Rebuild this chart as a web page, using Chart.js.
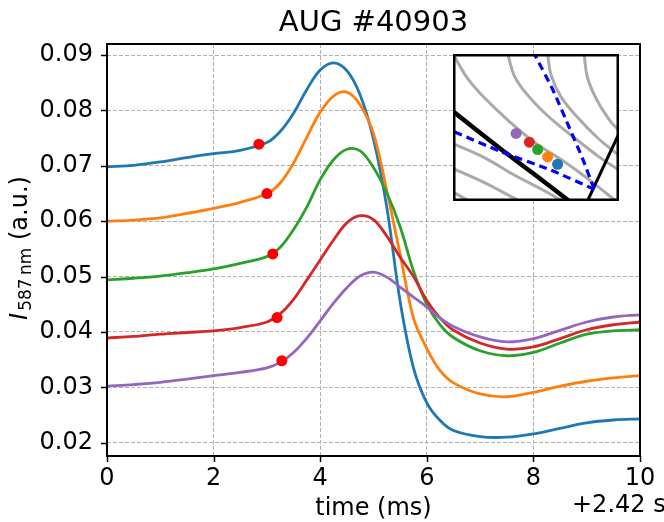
<!DOCTYPE html>
<html>
<head>
<meta charset="utf-8">
<script src="https://cdn.jsdelivr.net/npm/chart.js@4.4.1/dist/chart.umd.min.js"></script>
<style>
  html, body { margin: 0; padding: 0; background: #fff; }
  #wrap { position: relative; width: 664px; height: 522px; }
  #main { position: absolute; left: 0; top: 0; }
  #inset { position: absolute; left: 453px; top: 54px; background: #fff; }
</style>
</head>
<body>
<div id="wrap">
  <canvas id="main" width="664" height="522"></canvas>
  <canvas id="inset" width="166" height="147"></canvas>
</div>
<script>
var FONT = 'DejaVu Sans'

// time axis (ms, offset +2.42 s)
var times = [0, 0.5, 1, 1.5, 2, 2.5, 3, 3.25, 3.5, 3.75, 4, 4.25, 4.5, 4.75, 5, 5.25, 5.5, 5.75, 6, 6.25, 6.5, 7, 7.5, 8, 8.5, 9, 9.5, 10]

var blueLine = [0.0698, 0.0701, 0.0707, 0.0715, 0.0722, 0.0728, 0.0742, 0.0762, 0.0795, 0.0838, 0.0873, 0.0886, 0.0872, 0.0828, 0.0748, 0.0625, 0.0455, 0.0335, 0.0272, 0.0240, 0.0222, 0.0211, 0.0210, 0.0216, 0.0226, 0.0236, 0.0241, 0.0243]
var orangeLine = [0.0600, 0.0602, 0.0606, 0.0614, 0.0623, 0.0634, 0.0650, 0.0669, 0.0705, 0.0752, 0.0797, 0.0826, 0.0833, 0.0810, 0.0758, 0.0655, 0.0540, 0.0425, 0.0370, 0.0330, 0.0308, 0.0288, 0.0283, 0.0291, 0.0302, 0.0311, 0.0317, 0.0321]
var greenLine = [0.0494, 0.0497, 0.0501, 0.0507, 0.0514, 0.0524, 0.0536, 0.0553, 0.0585, 0.0626, 0.0675, 0.0711, 0.0730, 0.0727, 0.0697, 0.0651, 0.0590, 0.0510, 0.0450, 0.0413, 0.0390, 0.0366, 0.0357, 0.0363, 0.0380, 0.0396, 0.0402, 0.0404]
var redLine = [0.0389, 0.0392, 0.0396, 0.0399, 0.0402, 0.0408, 0.0418, 0.0433, 0.0459, 0.0494, 0.0530, 0.0566, 0.0597, 0.0610, 0.0603, 0.0573, 0.0535, 0.0500, 0.0457, 0.0425, 0.0403, 0.0380, 0.0369, 0.0373, 0.0388, 0.0404, 0.0413, 0.0418]
var purpleLine = [0.0302, 0.0305, 0.0309, 0.0315, 0.0321, 0.0327, 0.0335, 0.0345, 0.0363, 0.0389, 0.0420, 0.0452, 0.0480, 0.0501, 0.0508, 0.0499, 0.0481, 0.0463, 0.0445, 0.0425, 0.0410, 0.0391, 0.0382, 0.0388, 0.0403, 0.0418, 0.0427, 0.0431]

// red markers on each trace
var dotTimes = [2.85, 3.00, 3.11, 3.19, 3.28]
var dotValues = [0.0739, 0.0650, 0.0541, 0.0426, 0.0348]

var xTicks = [0, 2, 4, 6, 8, 10]
var yTicks = [0.02, 0.03, 0.04, 0.05, 0.06, 0.07, 0.08, 0.09]

var lineColors = ['#1f77b4', '#ff7f0e', '#2ca02c', '#d62728', '#9467bd']
var series = [blueLine, orangeLine, greenLine, redLine, purpleLine]

// inset (normalised coordinates of the small map)
var fluxLines = [
  [[0.00, 1.00], [0.09, 0.83], [0.20, 0.69], [0.34, 0.54], [0.49, 0.40], [0.68, 0.26], [0.86, 0.11], [0.98, 0.00]],
  [[0.33, 1.00], [0.37, 0.85], [0.45, 0.72], [0.57, 0.58], [0.72, 0.44], [0.88, 0.30], [1.00, 0.21]],
  [[0.57, 1.00], [0.59, 0.86], [0.65, 0.71], [0.75, 0.57], [0.88, 0.42], [1.00, 0.31]],
  [[0.79, 1.00], [0.81, 0.84], [0.87, 0.68], [0.95, 0.54], [1.00, 0.48]],
  [[0.00, 0.39], [0.18, 0.30], [0.38, 0.17], [0.55, 0.07], [0.66, 0.00]],
  [[0.00, 0.22], [0.18, 0.13], [0.40, 0.00]],
  [[0.00, 0.06], [0.10, 0.00]]
]
var separatrixLeft = [[0.00, 0.61], [0.28, 0.36], [0.48, 0.19], [0.70, 0.00]]
var separatrixRight = [[0.81, 0.00], [1.00, 0.46]]
var dashedLow = [[0.01, 0.47], [0.28, 0.34], [0.59, 0.21], [0.85, 0.08]]
var dashedHigh = [[0.85, 0.08], [0.78, 0.29], [0.70, 0.50], [0.60, 0.76], [0.49, 1.00]]
var insetDotX = [0.38, 0.46, 0.51, 0.57, 0.63]
var insetDotY = [0.46, 0.40, 0.35, 0.30, 0.25]
var insetDotColors = ['#9467bd', '#d62728', '#2ca02c', '#ff7f0e', '#1f77b4']

function pairs(list) {
  return list.map(function (p) { return {x: p[0], y: p[1]} })
}

var datasets = [{
  data: dotTimes.map(function (t, i) { return {x: t, y: dotValues[i]} }),
  showLine: false,
  pointRadius: 5.5,
  pointBackgroundColor: '#ff0000',
  pointBorderWidth: 0,
  order: 0
}]
series.forEach(function (s, k) {
  datasets.push({
    data: times.map(function (t, i) { return {x: t, y: s[i]} }),
    borderColor: lineColors[k],
    borderWidth: 2.8,
    pointRadius: 0,
    tension: 0.35,
    order: 5 - k
  })
})

// text, ticks and frame in matplotlib fashion
var decor = {
  id: 'decor',
  afterDraw: function (chart) {
    var ctx = chart.ctx
    var a = chart.chartArea
    var sx = chart.scales.x
    var sy = chart.scales.y
    ctx.save()
    ctx.strokeStyle = '#000'
    ctx.lineWidth = 1.5
    xTicks.forEach(function (v) {
      var px = Math.round(sx.getPixelForValue(v)) + 0.5
      ctx.beginPath(); ctx.moveTo(px, a.bottom); ctx.lineTo(px, a.bottom + 6); ctx.stroke()
    })
    yTicks.forEach(function (v) {
      var py = Math.round(sy.getPixelForValue(v)) + 0.5
      ctx.beginPath(); ctx.moveTo(a.left, py); ctx.lineTo(a.left - 6, py); ctx.stroke()
    })
    ctx.lineWidth = 2
    ctx.strokeRect(a.left, a.top, a.right - a.left, a.bottom - a.top)

    ctx.fillStyle = '#000'
    ctx.textBaseline = 'alphabetic'
    ctx.textAlign = 'center'
    ctx.font = '29px "' + FONT + '"'
    ctx.fillText('AUG #40903', (a.left + a.right) / 2, 31)
    ctx.font = '24px "' + FONT + '"'
    ctx.fillText('time (ms)', (a.left + a.right) / 2, 515)
    ctx.textAlign = 'left'
    ctx.fillText('+2.42 s', 572, 512)

    // y label: I_{587 nm} (a.u.)
    var mainFont = '24px "' + FONT + '"'
    var italFont = 'italic 24px "' + FONT + '"'
    var subFont = '17px "' + FONT + '"'
    ctx.font = italFont; var w1 = ctx.measureText('I').width
    ctx.font = subFont; var w2 = ctx.measureText('587\u2009nm').width
    ctx.font = mainFont; var w3 = ctx.measureText(' (a.u.)').width
    var total = w1 + 2 + w2 + w3
    ctx.translate(27, (a.top + a.bottom) / 2 - 2)
    ctx.rotate(-Math.PI / 2)
    var x0 = -total / 2
    ctx.font = italFont; ctx.fillText('I', x0, 0)
    ctx.font = subFont; ctx.fillText('587\u2009nm', x0 + w1 + 2, 4)
    ctx.font = mainFont; ctx.fillText(' (a.u.)', x0 + w1 + 2 + w2, 0)
    ctx.restore()
  }
}

var chart = new Chart(document.getElementById('main'), {
  type: 'line',
  data: {datasets: datasets},
  options: {
    responsive: false,
    devicePixelRatio: 1,
    animation: false,
    events: [],
    layout: {autoPadding: false, padding: {left: 0, top: 44, right: 24, bottom: 0}},
    plugins: {legend: {display: false}, tooltip: {enabled: false}, title: {display: false}},
    scales: {
      x: {
        type: 'linear',
        min: 0,
        max: 10,
        afterBuildTicks: function (s) { s.ticks = xTicks.map(function (v) { return {value: v} }) },
        afterFit: function (s) { s.height = 66 },
        grid: {color: '#b0b0b0', lineWidth: 1, drawTicks: false},
        border: {display: false, dash: [4, 2]},
        ticks: {
          color: '#000', padding: 8, maxRotation: 0, autoSkip: false,
          font: {family: FONT, size: 24},
          callback: function (v) { return String(v) }
        }
      },
      y: {
        type: 'linear',
        min: 0.0176,
        max: 0.092,
        afterBuildTicks: function (s) { s.ticks = yTicks.map(function (v) { return {value: v} }) },
        afterFit: function (s) { s.width = 107 },
        grid: {color: '#b0b0b0', lineWidth: 1, drawTicks: false},
        border: {display: false, dash: [4, 2]},
        ticks: {
          color: '#000', padding: 14,
          font: {family: FONT, size: 24},
          callback: function (v) { return v.toFixed(2) }
        }
      }
    }
  },
  plugins: [decor]
})

// inset map
var insetSets = [{
  data: insetDotX.map(function (x, i) { return {x: x, y: insetDotY[i]} }),
  pointRadius: 5.5,
  pointBackgroundColor: insetDotColors,
  pointBorderWidth: 0,
  showLine: false,
  order: 0
}, {
  data: pairs(dashedLow), showLine: true, borderColor: '#0000ff', borderWidth: 3.2,
  borderDash: [8, 5], pointRadius: 0, tension: 0.2, order: 1
}, {
  data: pairs(dashedHigh), showLine: true, borderColor: '#0000ff', borderWidth: 3.2,
  borderDash: [8, 5], pointRadius: 0, tension: 0.2, order: 1
}, {
  data: pairs(separatrixLeft), showLine: true, borderColor: '#000', borderWidth: 4.5,
  pointRadius: 0, tension: 0.2, order: 2
}, {
  data: pairs(separatrixRight), showLine: true, borderColor: '#000', borderWidth: 3,
  pointRadius: 0, order: 2
}]
fluxLines.forEach(function (l) {
  insetSets.push({
    data: pairs(l), showLine: true, borderColor: '#aaaaaa', borderWidth: 3,
    pointRadius: 0, tension: 0.4, order: 3
  })
})

var insetFrame = {
  id: 'insetFrame',
  afterDraw: function (c) {
    var ctx = c.ctx
    ctx.save()
    ctx.strokeStyle = '#000'
    ctx.lineWidth = 2.5
    ctx.strokeRect(1.25, 1.25, c.width - 2.5, c.height - 2.5)
    ctx.restore()
  }
}

var inset = new Chart(document.getElementById('inset'), {
  type: 'scatter',
  data: {datasets: insetSets},
  options: {
    responsive: false,
    devicePixelRatio: 1,
    animation: false,
    events: [],
    layout: {autoPadding: false, padding: 0},
    plugins: {legend: {display: false}, tooltip: {enabled: false}},
    scales: {
      x: {type: 'linear', min: 0, max: 1, display: false},
      y: {type: 'linear', min: 0, max: 1, display: false}
    }
  },
  plugins: [insetFrame]
})
</script>
</body>
</html>
